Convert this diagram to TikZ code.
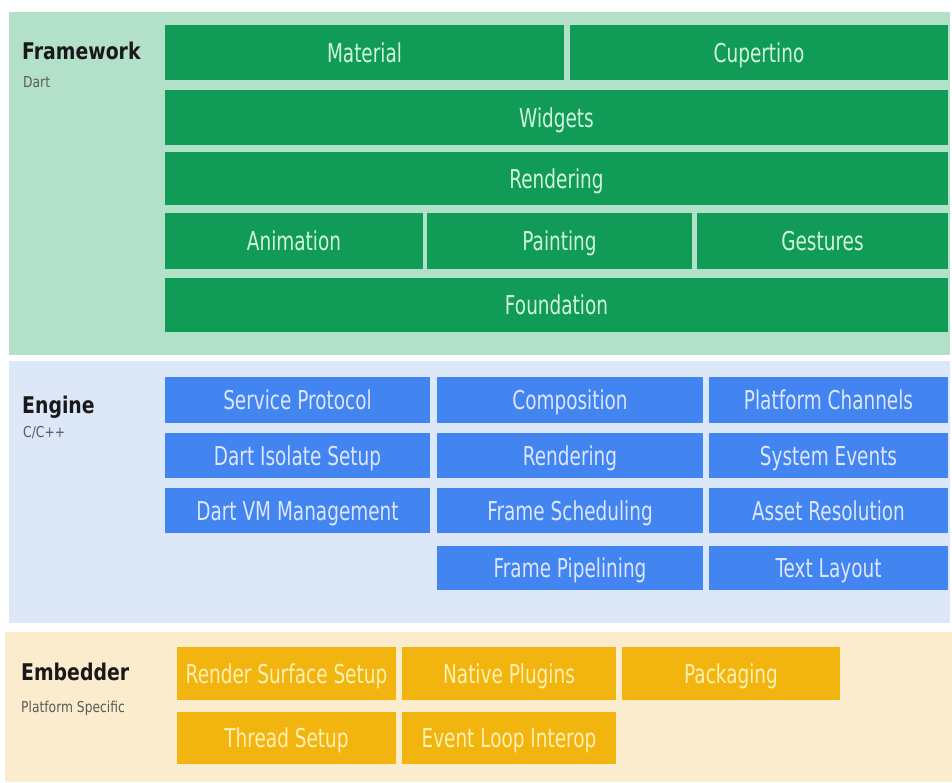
\documentclass[tikz,border=0pt]{standalone}
\usepackage{fontspec}
\setmainfont[FakeStretch=0.82]{DejaVu Sans}
\newfontfamily\blkfont[FakeStretch=0.71]{DejaVu Sans}

\definecolor{fwband}{HTML}{B3E0C9}
\definecolor{fwfill}{HTML}{109B57}
\definecolor{fwtext}{HTML}{D2F5DE}
\definecolor{enband}{HTML}{DCE8F8}
\definecolor{enfill}{HTML}{4284F0}
\definecolor{entext}{HTML}{DCE6FF}
\definecolor{emband}{HTML}{FAECCD}
\definecolor{emfill}{HTML}{F2B40F}
\definecolor{emtext}{HTML}{FFF0B4}
\definecolor{subgray}{HTML}{5A5A5A}

\begin{document}
\begin{tikzpicture}[x=1pt, y=-1pt,
		blk/.style={anchor=north west, inner sep=0pt, outer sep=0pt, text height=19pt, text depth=0pt,
			font=\blkfont\fontsize{26}{28}\selectfont},
		sz/.style 2 args={minimum width=#1pt, minimum height=#2pt},
		fwbox/.style={blk, fill=fwfill, text=fwtext},
		enbox/.style={blk, fill=enfill, text=entext},
		embox/.style={blk, fill=emfill, text=emtext},
		title/.style={anchor=base west, inner sep=0pt, font=\bfseries\fontsize{23}{25}\selectfont, text=black!90},
		sub/.style={anchor=base west, inner sep=0pt, font=\fontsize{15}{17}\selectfont, text=subgray}]
			\useasboundingbox (0,0) rectangle (952,782);
			\fill[white] (0,0) rectangle (952,782);

			% layers
			\fill[fwband] (9,12)  rectangle (950,355);
			\fill[enband] (9,361) rectangle (950,623);
			\fill[emband] (5,632) rectangle (952,782);

			\node[title] (framework) at (22,59)  {Framework};
			\node[sub]   (dart)      at (23,87)  {Dart};
			\node[title] (engine)    at (22,413) {Engine};
			\node[sub]   (cpp)       at (23,437) {C/C++};
			\node[title] (embedder)  at (21,680) {Embedder};
			\node[sub]   (platform)  at (21,712) {Platform Specific};

			% framework
			\node[fwbox, sz={399}{55}] (material)   at (165,25)  {Material};
			\node[fwbox, sz={378}{55}] (cupertino)  at (570,25)  {Cupertino};
			\node[fwbox, sz={783}{55}] (widgets)    at (165,90)  {Widgets};
			\node[fwbox, sz={783}{53}] (rendering)  at (165,152) {Rendering};
			\node[fwbox, sz={258}{56}] (animation)  at (165,213) {Animation};
			\node[fwbox, sz={265}{56}] (painting)   at (427,213) {Painting};
			\node[fwbox, sz={251}{56}] (gestures)   at (697,213) {Gestures};
			\node[fwbox, sz={783}{54}] (foundation) at (165,278) {Foundation};

			% engine
			\node[enbox, sz={265}{46}] (service)   at (165,377) {Service Protocol};
			\node[enbox, sz={265}{45}] (isolate)   at (165,433) {Dart Isolate Setup};
			\node[enbox, sz={265}{45}] (vm)        at (165,488) {Dart VM Management};
			\node[enbox, sz={266}{46}] (compose)   at (437,377) {Composition};
			\node[enbox, sz={266}{45}] (enrender)  at (437,433) {Rendering};
			\node[enbox, sz={266}{45}] (schedule)  at (437,488) {Frame Scheduling};
			\node[enbox, sz={266}{44}] (pipeline)  at (437,546) {Frame Pipelining};
			\node[enbox, sz={239}{46}] (channels)  at (709,377) {Platform Channels};
			\node[enbox, sz={239}{45}] (events)    at (709,433) {System Events};
			\node[enbox, sz={239}{45}] (assets)    at (709,488) {Asset Resolution};
			\node[enbox, sz={239}{44}] (textlay)   at (709,546) {Text Layout};

			% embedder
			\node[embox, sz={219}{53}] (surface)   at (177,647) {Render Surface Setup};
			\node[embox, sz={214}{53}] (plugins)   at (402,647) {Native Plugins};
			\node[embox, sz={218}{53}] (packaging) at (622,647) {Packaging};
			\node[embox, sz={219}{52}] (thread)    at (177,712) {Thread Setup};
			\node[embox, sz={214}{52}] (eventloop) at (402,712) {Event Loop Interop};
		\end{tikzpicture}
\end{document}
